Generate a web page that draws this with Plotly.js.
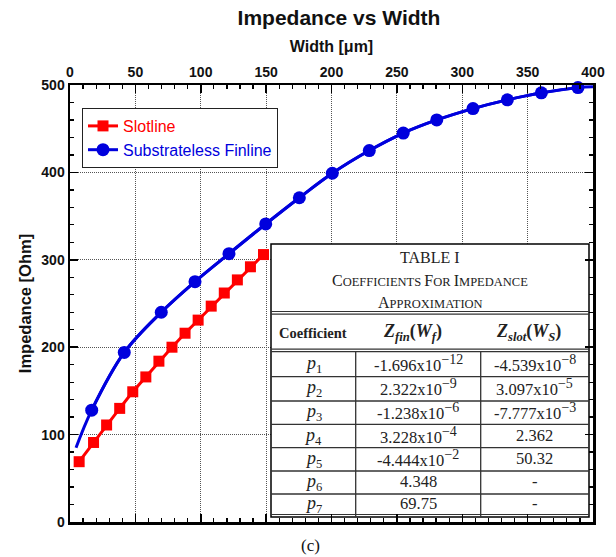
<!DOCTYPE html>
<html>
<head>
<meta charset="utf-8">
<script src="https://cdn.plot.ly/plotly-3.0.1.min.js"></script>
<style>html,body{margin:0;padding:0;background:#fff;}#chart{width:616px;height:557px;}</style>
</head>
<body>
<div id="chart"></div>
<script>
// ---- data ----
const widthSlot = [7, 18, 28, 38, 48, 58, 68, 78, 88, 98, 108, 118, 128, 138, 148];
const zSlot     = [69, 91, 111, 130, 149, 166, 184, 200, 216, 231, 247, 262, 277, 292, 306];
const widthFin  = [16.6, 41.5, 69.8, 95.6, 121.6, 149.7, 175.4, 200.6, 228.9, 254.9, 280.5, 308.2, 334.5, 360.5, 388.5];
const zFin      = [128, 194, 240, 275, 307, 341, 371, 399, 425, 445, 460, 473, 483, 491, 497];
const finCurveStart = [4.6, 85];
const finCurveEnd   = [400, 498];

const xTickVals = [0, 50, 100, 150, 200, 250, 300, 350, 400];
const yTickVals = [0, 100, 200, 300, 400, 500];

const coeffNames  = ['1', '2', '3', '4', '5', '6', '7'];
const zfinMant    = ['-1.696', '2.322', '-1.238', '3.228', '-4.444', '4.348', '69.75'];
const zfinExp     = ['\u221212', '\u22129', '\u22126', '\u22124', '\u22122', '', ''];
const zslotMant   = ['-4.539', '3.097', '-7.777', '2.362', '50.32', '-', '-'];
const zslotExp    = ['\u22128', '\u22125', '\u22123', '', '', '', ''];

// ---- layout helpers (pixel -> data coordinates of the plot area) ----
const L = 70, R = 23, T = 85, B = 35, W = 616, H = 557;
const pw = W - L - R, ph = H - T - B;
const X = px => (px - L) / pw * 400;
const Y = py => (H - B - py) / ph * 500;

const serif = 'Liberation Serif, Times New Roman, serif';
const sans = 'Liberation Sans, Arial, sans-serif';

const tL = 271, tR = 589, tT = 244, tB = 517;
const col1 = 355.7, col2 = 480.7;
const rowLines = [351.7, 376.7, 401, 424.3, 447.7, 471, 494];

const shapes = [];
shapes.push({type: 'rect', xref: 'x', yref: 'y', x0: X(tL), x1: X(tR), y0: Y(tB), y1: Y(tT),
  fillcolor: '#ffffff', line: {color: '#000', width: 1.5}, layer: 'between'});
function hline(py, w, c) {
  shapes.push({type: 'line', xref: 'x', yref: 'y', x0: X(tL), x1: X(tR), y0: Y(py), y1: Y(py),
    line: {color: c || '#333', width: w || 1.3}, layer: 'between'});
}
function vline(px, py0, py1) {
  shapes.push({type: 'line', xref: 'x', yref: 'y', x0: X(px), x1: X(px), y0: Y(py0), y1: Y(py1),
    line: {color: '#333', width: 1.3}, layer: 'between'});
}
hline(311.5, 1.2); hline(314.2, 1.2);
hline(349.2, 1.2);
rowLines.forEach(p => hline(p, 1.3));
hline(514.5, 1.2);
vline(col1, 351.7, tB); vline(col2, 351.7, tB);

const annotations = [];
function txt(text, px, py, size, extra) {
  annotations.push(Object.assign({xref: 'x', yref: 'y', x: X(px), y: Y(py), text: text, showarrow: false,
    xanchor: 'center', yanchor: 'middle', font: {family: serif, size: size, color: '#222'}}, extra || {}));
}
function sci(m, e) {
  return e ? m + 'x10<sup><span style="font-size:14px">' + e + '</span></sup>' : m;
}
const tc = (tL + tR) / 2;
txt('TABLE I', tc, 257, 16);
txt('<span style="font-size:16px">C</span><span style="font-size:12.5px">OEFFICIENTS </span><span style="font-size:16px">F</span><span style="font-size:12.5px">OR </span><span style="font-size:16px">I</span><span style="font-size:12.5px">MPEDANCE</span>', tc, 280, 16);
txt('<span style="font-size:16px">A</span><span style="font-size:12.5px">PPROXIMATION</span>', tc, 302, 16);
txt('<b>Coefficient</b>', (tL + col1) / 2, 333, 14.5);
txt('<b><i>Z</i><sub><i>fin</i></sub>(<i>W</i><sub><i>f</i></sub>)</b>', (col1 + col2) / 2 - 6, 332, 18);
txt('<b><i>Z</i><sub><i>slot</i></sub>(<i>W</i><sub><i>S</i></sub>)</b>', (col2 + tR) / 2 - 6, 332, 18);
const rowEdges = [351.7].concat(rowLines.slice(1)).concat([514.5]);
coeffNames.forEach((n, i) => {
  const cy = (rowEdges[i] + rowEdges[i + 1]) / 2;
  txt('<i>p</i><sub>' + n + '</sub>', (tL + col1) / 2, cy, 18);
  txt(sci(zfinMant[i], zfinExp[i]), (col1 + col2) / 2, cy - 1, 16.5);
  txt(sci(zslotMant[i], zslotExp[i]), (col2 + tR) / 2, cy - 1, 16.5);
});
annotations.push({xref: 'paper', yref: 'paper', x: (310 - L) / pw, y: (H - B - 545) / ph, text: '(c)',
  showarrow: false, xanchor: 'center', yanchor: 'middle', font: {family: serif, size: 17, color: '#111'}});

const red = '#ff0000', blue = '#0000dd';
const traces = [
  {x: widthSlot, y: zSlot, type: 'scatter', mode: 'lines+markers',
   name: '<span style="color:' + red + '">Slotline</span>',
   line: {color: red, width: 3}, marker: {symbol: 'square', size: 11, color: red},
   cliponaxis: false},
  {x: [finCurveStart[0]].concat(widthFin, [finCurveEnd[0]]),
   y: [finCurveStart[1]].concat(zFin, [finCurveEnd[1]]),
   type: 'scatter', mode: 'lines', showlegend: false, hoverinfo: 'skip',
   line: {color: blue, width: 3, shape: 'spline', smoothing: 1}},
  {x: widthFin, y: zFin, type: 'scatter', mode: 'lines+markers',
   name: '<span style="color:' + blue + '">Substrateless Finline</span>',
   line: {color: blue, width: 3, shape: 'spline', smoothing: 1},
   marker: {symbol: 'circle', size: 13, color: blue}, cliponaxis: false}
];

const axisCommon = {
  showline: true, linecolor: '#000', linewidth: 2.5, mirror: 'ticks',
  ticks: 'inside', ticklen: 8, tickwidth: 1.5, tickcolor: '#000',
  showgrid: true, gridcolor: '#555', gridwidth: 1.2, griddash: '1px,1px',
  zeroline: false,
  tickfont: {family: sans, size: 14, weight: 'bold', color: '#111'}
};

const layout = {
  width: W, height: H,
  margin: {l: L, r: R, t: T, b: B},
  paper_bgcolor: '#fff', plot_bgcolor: '#fff',
  title: {text: '<b>Impedance vs Width</b>', x: 339 / W, xanchor: 'center', xref: 'container',
          y: 1 - 17.5 / H, yanchor: 'middle', yref: 'container',
          font: {family: sans, size: 21, color: '#111'}},
  xaxis: Object.assign({}, axisCommon, {
    side: 'top', range: [0, 400], tickvals: xTickVals,
    minor: {dtick: 10, ticks: 'inside', ticklen: 4, tickcolor: '#000', tickwidth: 1.3, showgrid: false},
    title: {text: '<b>Width [μm]</b>', standoff: 8, font: {family: sans, size: 16, color: '#111'}}
  }),
  yaxis: Object.assign({}, axisCommon, {
    range: [0, 500], tickvals: yTickVals,
    minor: {dtick: 20, ticks: 'inside', ticklen: 4, tickcolor: '#000', tickwidth: 1.3, showgrid: false},
    title: {text: '<b>Impedance [Ohm]</b>', standoff: 6, font: {family: sans, size: 16.5, color: '#111'}}
  }),
  legend: {x: (82 - L) / pw, y: (H - B - 108) / ph, xanchor: 'left', yanchor: 'top',
           bgcolor: '#fff', bordercolor: '#222', borderwidth: 1,
           font: {family: sans, size: 16, color: '#111'}},
  shapes: shapes,
  annotations: annotations,
  showlegend: true
};

Plotly.newPlot('chart', traces, layout, {displayModeBar: false, staticPlot: true});
</script>
</body>
</html>
